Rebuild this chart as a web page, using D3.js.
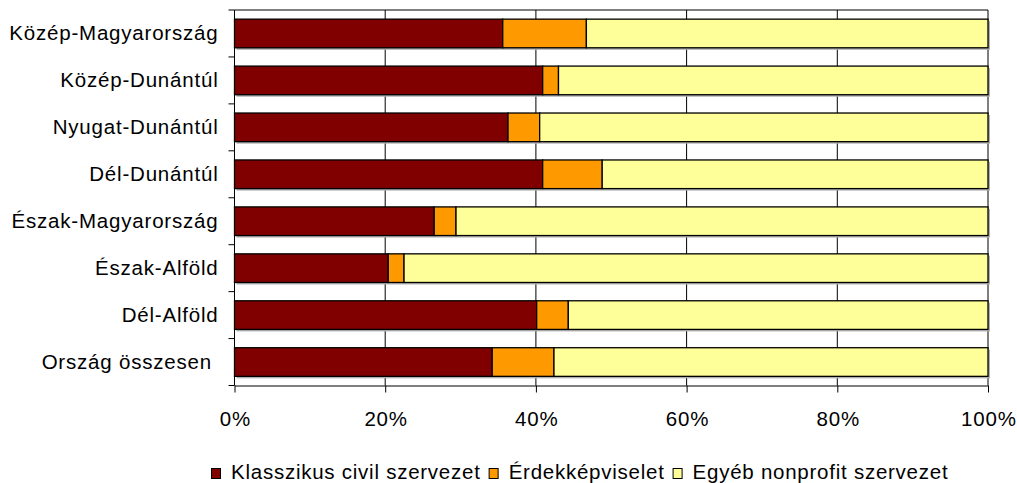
<!DOCTYPE html>
<html lang="hu">
<head>
    <meta charset="UTF-8">
    <script src="https://cdn.jsdelivr.net/npm/d3@7"></script>
    <title>Nonprofit szervezetek régiónként</title>
    <style>
        body {
            margin: 0;
            background: #ffffff;
            font-family: Arial, "Liberation Sans", sans-serif;
        }
        text {
            fill: #000;
            font-size: 20.5px;
            letter-spacing: 0.8px;
        }
        .legend text {
            letter-spacing: 0.75px;
        }
    </style>
</head>
<body>
    <div id="chart"></div>
    <script>
        // Chart data (shares in %)
        const regions = [
            "Közép-Magyarország",
            "Közép-Dunántúl",
            "Nyugat-Dunántúl",
            "Dél-Dunántúl",
            "Észak-Magyarország",
            "Észak-Alföld",
            "Dél-Alföld",
            "Ország összesen "
        ];
        const klasszikus = [35.6, 40.9, 36.3, 40.9, 26.5, 20.4, 40.1, 34.2];
        const erdekkepviselet = [11.1, 2.1, 4.2, 7.9, 2.9, 2.1, 4.2, 8.2];
        const egyeb = [53.3, 57.0, 59.5, 51.2, 70.6, 77.5, 55.7, 57.6];
        const seriesNames = ["Klasszikus civil szervezet", "Érdekképviselet", "Egyéb nonprofit szervezet"];
        const seriesColors = ["#800000", "#ff9900", "#ffff99"];
        const xTicks = [0, 20, 40, 60, 80, 100];

        const width = 1017;
        const height = 483;
        const margin = { top: 10, right: 29, bottom: 97.5, left: 234.5 };

        const svg = d3.select("#chart").append("svg")
            .attr("width", width)
            .attr("height", height);

        const x = d3.scaleLinear()
            .domain([0, 100])
            .range([margin.left, width - margin.right]);

        const y = d3.scaleBand()
            .domain(regions)
            .range([margin.top, height - margin.bottom])
            .paddingInner(0.39)
            .paddingOuter(0.195);

        // build stacked table
        const table = regions.map((r, i) => ({
            region: r,
            s0: klasszikus[i],
            s1: erdekkepviselet[i],
            s2: egyeb[i]
        }));
        const stack = d3.stack().keys(["s0", "s1", "s2"]);
        const stacked = stack(table);

        // gridlines
        svg.append("g")
            .selectAll("line")
            .data(xTicks.filter(d => d > 0))
            .enter()
            .append("line")
            .attr("x1", d => x(d))
            .attr("x2", d => x(d))
            .attr("y1", margin.top)
            .attr("y2", height - margin.bottom)
            .attr("stroke", "#000")
            .attr("stroke-width", 1);

        // plot area top border
        svg.append("line")
            .attr("x1", x(0))
            .attr("x2", x(100))
            .attr("y1", margin.top)
            .attr("y2", margin.top)
            .attr("stroke", "#000");

        // bar shadows
        svg.append("g")
            .selectAll("rect")
            .data(table)
            .enter()
            .append("rect")
            .attr("x", x(0) + 2)
            .attr("y", d => y(d.region) + 2)
            .attr("width", x(100) - x(0))
            .attr("height", y.bandwidth())
            .attr("fill", "#b0b0b0");

        // bars
        svg.append("g")
            .selectAll("g")
            .data(stacked)
            .enter()
            .append("g")
            .attr("fill", (d, i) => seriesColors[i])
            .selectAll("rect")
            .data(d => d)
            .enter()
            .append("rect")
            .attr("x", d => x(d[0]))
            .attr("y", d => y(d.data.region))
            .attr("width", d => x(d[1]) - x(d[0]))
            .attr("height", y.bandwidth())
            .attr("stroke", "#000")
            .attr("stroke-width", 1.3);

        // y axis with ticks at band boundaries
        const yAxis = svg.append("g");
        yAxis.append("line")
            .attr("x1", x(0))
            .attr("x2", x(0))
            .attr("y1", margin.top)
            .attr("y2", height - margin.bottom)
            .attr("stroke", "#000");
        const bounds = d3.range(regions.length + 1).map(i => y.range()[0] + i * y.step());
        yAxis.selectAll(".tk")
            .data(bounds)
            .enter()
            .append("line")
            .attr("x1", x(0) - 6)
            .attr("x2", x(0))
            .attr("y1", d => d)
            .attr("y2", d => d)
            .attr("stroke", "#000");
        yAxis.selectAll("text")
            .data(regions)
            .enter()
            .append("text")
            .attr("x", x(0) - 16)
            .attr("y", d => y(d) + y.bandwidth() / 2 + 6.5)
            .attr("text-anchor", "end")
            .style("white-space", "pre")
            .text(d => d);

        // x axis
        const xAxis = d3.axisBottom(x)
            .tickValues(xTicks)
            .tickFormat(d => d + "%")
            .tickSize(7)
            .tickSizeOuter(0);
        const gx = svg.append("g")
            .attr("transform", `translate(0,${height - margin.bottom})`)
            .call(xAxis);
        gx.select(".domain").attr("stroke", "#000");
        gx.selectAll(".tick line").attr("stroke", "#000");
        gx.selectAll(".tick text")
            .attr("y", 0)
            .attr("dy", 0)
            .attr("transform", "translate(0.4,40)")
            .attr("font-size", null)
            .attr("font-family", null)
            .attr("fill", "#000");

        // legend
        const legend = svg.append("g")
            .attr("class", "legend")
            .attr("transform", "translate(211,479)");
        let lx = 0;
        seriesNames.forEach((name, i) => {
            const item = legend.append("g").attr("transform", `translate(${lx},0)`);
            item.append("rect")
                .attr("x", 0.5)
                .attr("y", -10.5)
                .attr("width", 9)
                .attr("height", 10)
                .attr("fill", seriesColors[i])
                .attr("stroke", "#000")
                .attr("stroke-width", 1);
            const t = item.append("text")
                .attr("x", 20)
                .attr("y", 0)
                .text(name);
            lx += 20 + t.node().getComputedTextLength() + 8;
        });
    </script>
</body>
</html>
